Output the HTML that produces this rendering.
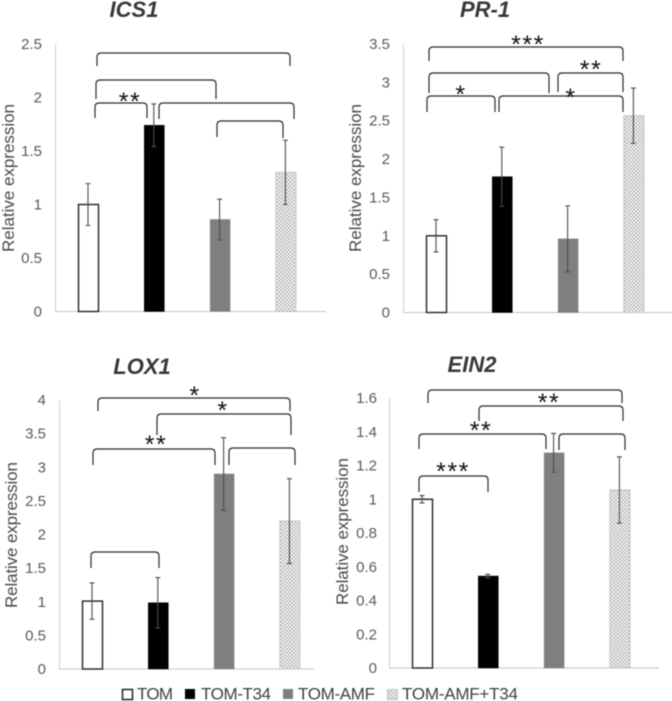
<!DOCTYPE html>
<html lang="en">
<head>
<meta charset="utf-8">
<title>Relative expression of ICS1, PR-1, LOX1 and EIN2</title>
<style>
html,body{margin:0;padding:0;background:#fff;}
body{width:672px;height:701px;overflow:hidden;}
svg{display:block;font-family:"Liberation Sans",sans-serif;filter:blur(0.4px);}
.bracket{fill:none;stroke:#2a2a2a;stroke-width:1.2;}
.star{font-size:25px;fill:#111;text-anchor:middle;letter-spacing:1.5px;}
.title{font-size:22px;font-weight:bold;font-style:italic;fill:#383838;text-anchor:middle;}
.tick{font-size:15px;fill:#595959;text-anchor:end;}
.ytitle{font-size:17px;fill:#4a4a4a;text-anchor:middle;}
.legend-text{font-size:17px;fill:#404040;}
</style>
</head>
<body>
<svg id="figure" width="672" height="701" viewBox="0 0 672 701" xmlns="http://www.w3.org/2000/svg">
  <defs>
    <pattern id="dots" width="2.6" height="2.6" patternUnits="userSpaceOnUse" patternTransform="rotate(45)">
      <rect width="2.6" height="2.6" fill="#f4f4f4"/>
      <circle cx="1.3" cy="1.3" r="0.72" fill="#808080"/>
    </pattern>
  </defs>

  <g id="ics1">
    <text class="title" x="134" y="17">ICS1</text>
    <g>
      <path class="bracket" d="M97 66V57q0-4 4-4H286q4 0 4 4V66"/>
      <path class="bracket" d="M96 99V84q0-4 4-4H212q4 0 4 4V99"/>
      <path class="bracket" d="M95 118V107q0-4 4-4H143q4 0 4 4V118"/>
      <path class="bracket" d="M159 119V107q0-4 4-4H290q4 0 4 4V119"/>
      <path class="bracket" d="M217 137V125q0-4 4-4H279q4 0 4 4V138"/>
    </g>
    <text class="star" x="130" y="110">**</text>
  </g>

  <g id="pr1">
    <text class="title" x="485" y="17">PR-1</text>
    <g>
      <path class="bracket" d="M429 61V51q0-4 4-4H619q4 0 4 4V61"/>
      <path class="bracket" d="M429 93V77q0-4 4-4H545q4 0 4 4V93"/>
      <path class="bracket" d="M558 92V77q0-4 4-4H619q4 0 4 4V92"/>
      <path class="bracket" d="M427 112V100q0-4 4-4H491q4 0 4 4V112"/>
      <path class="bracket" d="M499 112V100q0-4 4-4H619q4 0 4 4V112"/>
    </g>
    <text class="star" x="528" y="53">***</text>
    <text class="star" x="591" y="78">**</text>
    <text class="star" x="461" y="103">*</text>
    <text class="star" x="571" y="106">*</text>
  </g>

  <g id="lox1">
    <text class="title" x="142" y="374">LOX1</text>
    <g>
      <path class="bracket" d="M98 411V402q0-4 4-4H286q4 0 4 4V411"/>
      <path class="bracket" d="M157 435V418q0-4 4-4H287q4 0 4 4V435"/>
      <path class="bracket" d="M93 465V453q0-4 4-4H211q4 0 4 4V465"/>
      <path class="bracket" d="M229 465V452q0-4 4-4H291q4 0 4 4V465"/>
      <path class="bracket" d="M91 568V556q0-4 4-4H155q4 0 4 4V568"/>
    </g>
    <text class="star" x="195" y="404">*</text>
    <text class="star" x="223" y="419">*</text>
    <text class="star" x="156" y="453">**</text>
  </g>

  <g id="ein2">
    <text class="title" x="472" y="372">EIN2</text>
    <g>
      <path class="bracket" d="M428 403V394q0-4 4-4H618q4 0 4 4V403"/>
      <path class="bracket" d="M479 421V410q0-4 4-4H619q4 0 4 4V421"/>
      <path class="bracket" d="M419 449V438q0-4 4-4H542q4 0 4 4V449"/>
      <path class="bracket" d="M559 450V438q0-4 4-4H621q4 0 4 4V450"/>
      <path class="bracket" d="M419 492V480q0-4 4-4H484q4 0 4 4V492"/>
    </g>
    <text class="star" x="549" y="411">**</text>
    <text class="star" x="481" y="439">**</text>
    <text class="star" x="453" y="480">***</text>
  </g>

  <g>
    <g>
      <rect x="122.5" y="689.5" width="10" height="10" fill="#fff" stroke="#222" stroke-width="1.5"/>
      <text class="legend-text" x="137" y="699.5" textLength="36">TOM</text>
    </g>
    <g>
      <rect x="185" y="689" width="10" height="10" fill="#000"/>
      <text class="legend-text" x="201" y="699.5" textLength="70">TOM-T34</text>
    </g>
    <g>
      <rect x="283" y="689" width="10" height="10" fill="#7f7f7f"/>
      <text class="legend-text" x="298" y="699.5" textLength="77">TOM-AMF</text>
    </g>
    <g>
      <rect x="387.5" y="689.5" width="10" height="10" fill="url(#dots)" stroke="#c4c4c4"/>
      <text class="legend-text" x="402" y="699.5" textLength="116">TOM-AMF+T34</text>
    </g>
  </g>
</svg>

<script>
const categories = ['TOM', 'TOM-T34', 'TOM-AMF', 'TOM-AMF+T34'];

const ics1Values = [1, 1.74, 0.86, 1.3];
const ics1Errors = [0.195, 0.2, 0.19, 0.3];
const ics1Ticks = [0, 0.5, 1, 1.5, 2, 2.5];
const ics1TickLabels = ['0', '0.5', '1', '1.5', '2', '2.5'];

const pr1Values = [1, 1.77, 0.96, 2.565];
const pr1Errors = [0.21, 0.385, 0.43, 0.36];
const pr1Ticks = [0, 0.5, 1, 1.5, 2, 2.5, 3, 3.5];
const pr1TickLabels = ['0', '0.5', '1', '1.5', '2', '2.5', '3', '3.5'];

const lox1Values = [1.01, 0.985, 2.9, 2.2];
const lox1Errors = [0.27, 0.375, 0.54, 0.63];
const lox1Ticks = [0, 0.5, 1, 1.5, 2, 2.5, 3, 3.5, 4];
const lox1TickLabels = ['0', '0.5', '1', '1.5', '2', '2.5', '3', '3.5', '4'];

const ein2Values = [1, 0.545, 1.275, 1.055];
const ein2Errors = [0.022, 0.01, 0.115, 0.196];
const ein2Ticks = [0, 0.2, 0.4, 0.6, 0.8, 1, 1.2, 1.4, 1.6];
const ein2TickLabels = ['0', '0.2', '0.4', '0.6', '0.8', '1', '1.2', '1.4', '1.6'];

const NS = 'http://www.w3.org/2000/svg';

function make(parent, tag, attrs) {
  const el = document.createElementNS(NS, tag);
  for (const k in attrs) el.setAttribute(k, attrs[k]);
  parent.insertBefore(el, parent.firstChild);
  return el;
}

function drawPanel(id, prefix, values, errors, ticks, tickLabels, frame) {
  const panel = document.getElementById(id);
  const yScale = v => frame.base - v * (frame.base - frame.top) / ticks[ticks.length - 1];
  const xScale = i => frame.firstBar + frame.step * i;
  const barW = 20;

  // error bars (top-most of the series layer, so inserted first)
  values.forEach((v, i) => {
    const up = yScale(v + errors[i]);
    const down = yScale(v - errors[i]);
    const cx = xScale(i) - 0.5;
    const cap = 2.5;
    const err = make(panel, 'path', {
      d: 'M' + (cx - cap) + ' ' + up + 'H' + (cx + cap) + 'M' + cx + ' ' + up + 'V' + down + 'M' + (cx - cap) + ' ' + down + 'H' + (cx + cap),
      fill: 'none', stroke: '#4d4d4d', 'stroke-width': 1.1
    });
    
    
  });

  // bars
  const styles = [
    { fill: '#fff', stroke: '#222', sw: 1.4 },
    { fill: '#000', stroke: '#000', sw: 0.5 },
    { fill: '#7f7f7f', stroke: '#8c8c8c', sw: 0.5 },
    { fill: 'url(#dots)', stroke: '#c4c4c4', sw: 1 }
  ];
  values.forEach((v, i) => {
    const y = yScale(v);
    const bar = make(panel, 'rect', {
      x: xScale(i) - barW / 2, y: y, width: barW, height: frame.base - y,
      fill: styles[i].fill, stroke: styles[i].stroke, 'stroke-width': styles[i].sw
    });
    
    
  });

  // tick labels
  ticks.forEach((t, i) => {
    const label = make(panel, 'text', { class: 'tick', x: frame.tickRight, y: yScale(t) + 5 });
    label.textContent = tickLabels[i];
    
    
  });

  // y-axis title
  const midY = (frame.titleTop + frame.titleBottom) / 2;
  const yTitle = make(panel, 'text', {
    class: 'ytitle', x: 0, y: 0,
    transform: 'translate(' + frame.titleX + ' ' + midY + ') rotate(-90)',
    textLength: frame.titleBottom - frame.titleTop
  });
  yTitle.textContent = 'Relative expression';
  
  

  // axes
  const xAxis = make(panel, 'line', { x1: frame.axisX, x2: frame.axisEnd, y1: frame.base, y2: frame.base, stroke: '#c6c6c6', 'stroke-width': 1 });
  
  
  const yAxis = make(panel, 'line', { x1: frame.axisX, x2: frame.axisX, y1: frame.top, y2: frame.base, stroke: '#d0d0d0', 'stroke-width': 1 });
  
  
}

drawPanel('ics1', 'ics1', ics1Values, ics1Errors, ics1Ticks, ics1TickLabels,
  { axisX: 55.5, axisEnd: 326, base: 311.5, top: 44, firstBar: 88.5, step: 65.8, tickRight: 42, titleX: 14, titleTop: 104, titleBottom: 252 });
drawPanel('pr1', 'pr1', pr1Values, pr1Errors, pr1Ticks, pr1TickLabels,
  { axisX: 403.5, axisEnd: 672, base: 312.5, top: 44, firstBar: 436.5, step: 65.8, tickRight: 390, titleX: 361, titleTop: 104, titleBottom: 252 });
drawPanel('lox1', 'lox1', lox1Values, lox1Errors, lox1Ticks, lox1TickLabels,
  { axisX: 59.5, axisEnd: 314, base: 669, top: 400, firstBar: 92.5, step: 65.8, tickRight: 46, titleX: 17, titleTop: 462, titleBottom: 608 });
drawPanel('ein2', 'ein2', ein2Values, ein2Errors, ein2Ticks, ein2TickLabels,
  { axisX: 389.5, axisEnd: 659, base: 668, top: 398, firstBar: 422.5, step: 65.8, tickRight: 377, titleX: 348, titleTop: 458, titleBottom: 605 });
</script>
</body>
</html>
